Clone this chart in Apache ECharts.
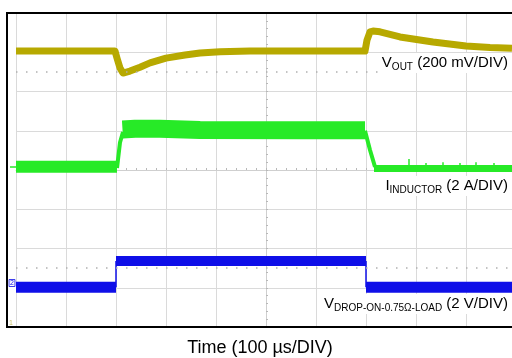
<!DOCTYPE html>
<html>
<head>
<meta charset="utf-8">
<script src="https://cdn.jsdelivr.net/npm/echarts@6/dist/echarts.min.js"></script>
<style>html,body{margin:0;padding:0;background:#fff}#c{width:512px;height:358px}</style>
</head>
<body>
<div id="c"></div>
<script>
// Time in µs relative to screen centre, amplitude in divisions
const timeTicks = [-500, -400, -300, -200, -100, 0, 100, 200, 300, 400];
const voutTrace = [[-500,3.03],[-302,3.03],[-298,2.85],[-292,2.60],[-286,2.47],[-272,2.52],[-252,2.62],[-232,2.73],[-200,2.85],[-162,2.93],[-132,2.98],[-92,3.01],[-32,3.03],[68,3.03],[198,3.03],[202,3.31],[208,3.52],[214,3.54],[228,3.52],[268,3.39],[334,3.26],[400,3.16],[448,3.12],[492,3.10]];
const iLowBefore = [[-500,0.08],[-298,0.08]];
const iRise = [[-298,0.05],[-292,0.70],[-286,0.97]];
const iHigh = [[-287,1.03],[-262,1.05],[-212,1.05],[-132,1.02],[68,1.01],[198,1.01]];
const iFall = [[198,1.00],[208,0.51],[218,0.08]];
const iLowAfter = [[216,0.04],[492,0.04]];
const iSpikes = [[286,0.04],[286,0.28],[320,0.04],[320,0.18],[354,0.04],[354,0.2],[388,0.04],[388,0.18],[420,0.04],[420,0.2],[456,0.04],[456,0.18]];
const vdLowBefore = [[-500,-2.99],[-300,-2.99]];
const vdHigh = [[-300,-2.32],[200,-2.32]];
const vdLowAfter = [[200,-2.99],[492,-2.99]];
const vdEdges = [[[-300,-2.99],[-300,-2.32]],[[200,-2.32],[200,-2.99]]];
const cursorLevels = [2.5, -2.5];

const YEL = '#b7a900', GRN = '#27ea27', BLU = '#0f0fe8';
function seg(data, color, width, z) {
  return {type:'line', data:data, symbol:'none', silent:true, z:z||2,
    lineStyle:{color:color, width:width, cap:'butt', join:'round'}, animation:false};
}
const series = [
  {type:'line', data:[], symbol:'none', silent:true,
    markLine:{silent:true, symbol:'none', label:{show:false}, animation:false,
      lineStyle:{color:'#b0b0b0', width:1.5, type:[1.5,8.5]},
      data: cursorLevels.map(v => ({yAxis:v}))}},
  seg(voutTrace, YEL, 7),
  seg(iLowBefore, GRN, 12),
  seg(iRise, GRN, 4),
  seg(iHigh, GRN, 18),
  seg(iFall, GRN, 4),
  seg(iLowAfter, GRN, 7),
  {type:'custom', silent:true, data:[0], renderItem:function(p, api){
    const kids=[];
    for (let i=0;i<iSpikes.length;i+=2){
      const a=api.coord(iSpikes[i]), b=api.coord(iSpikes[i+1]);
      kids.push({type:'line', shape:{x1:a[0],y1:a[1],x2:b[0],y2:b[1]}, style:{stroke:GRN, lineWidth:1.5}});
    }
    return {type:'group', children:kids};
  }},
  seg(vdLowBefore, BLU, 11),
  seg(vdHigh, BLU, 10),
  seg(vdLowAfter, BLU, 11),
  {type:'custom', silent:true, data:[0], renderItem:function(p, api){
    return {type:'group', children: vdEdges.map(e => {
      const a=api.coord(e[0]), b=api.coord(e[1]);
      return {type:'line', shape:{x1:a[0],y1:a[1],x2:b[0],y2:b[1]}, style:{stroke:BLU, lineWidth:1.5}};
    })};
  }}
];
const FF = '"Liberation Sans", Arial, sans-serif';
function label(text, y) {
  return {type:'text', z:100, x:508, y:y, style:{text:text, align:'right', verticalAlign:'middle',
    backgroundColor:'#fff', padding:[1,0,1,3], fontFamily:FF,
    rich:{m:{fontSize:15, lineHeight:18, fill:'#000', fontFamily:FF},
          s:{fontSize:10, lineHeight:12, verticalAlign:'bottom', fill:'#000', fontFamily:FF}}}};
}
const chart = echarts.init(document.getElementById('c'), null, {renderer:'canvas'});
chart.setOption({
  animation:false,
  backgroundColor:'#fff',
  grid:{left:16, top:13, width:496, height:314, containLabel:false},
  xAxis:{type:'value', min:-500, max:492, interval:100,
    axisLine:{show:true, onZero:true, lineStyle:{color:'#cfcfcf', width:1}},
    axisTick:{show:true, inside:true, length:2, lineStyle:{color:'#b8b8b8'}},
    minorTick:{show:true, splitNumber:5, length:2, lineStyle:{color:'#b8b8b8'}},
    axisLabel:{show:false},
    splitLine:{show:true, showMaxLine:false, lineStyle:{color:'#dadada', width:1}}},
  yAxis:{type:'value', min:-4, max:4, interval:1,
    axisLine:{show:true, onZero:true, lineStyle:{color:'#cfcfcf', width:1}},
    axisTick:{show:true, inside:true, length:2, lineStyle:{color:'#b8b8b8'}},
    minorTick:{show:true, splitNumber:5, length:2, lineStyle:{color:'#b8b8b8'}},
    axisLabel:{show:false},
    splitLine:{show:true, lineStyle:{color:'#dadada', width:1}}},
  series: series,
  graphic:[
    {type:'rect', z:90, shape:{x:7, y:13, width:520, height:314}, style:{fill:'none', stroke:'#000', lineWidth:2}},
    label('{m|V}{s|OUT}{m| (200 mV/DIV)}', 63),
    label('{m|I}{s|INDUCTOR}{m| (2 A/DIV)}', 186),
    label('{m|V}{s|DROP-ON-0.75Ω-LOAD}{m| (2 V/DIV)}', 304),
    {type:'text', z:100, x:260, y:348, style:{text:'Time (100 µs/DIV)', align:'center', verticalAlign:'middle', fontSize:18, fontFamily:FF, fill:'#000'}},
    {type:'line', z:95, shape:{x1:10, y1:167, x2:16, y2:167}, style:{stroke:GRN, lineWidth:1.5}},
    {type:'text', z:95, x:12, y:283, style:{text:'2', align:'center', verticalAlign:'middle', fontSize:7, fontFamily:FF, fill:BLU, borderColor:BLU, borderWidth:0.8, padding:[0,1]}},
    {type:'text', z:95, x:11, y:323, style:{text:'1', align:'center', verticalAlign:'middle', fontSize:7, fontFamily:FF, fill:'#c9c06a'}}
  ]
});
</script>
</body>
</html>
